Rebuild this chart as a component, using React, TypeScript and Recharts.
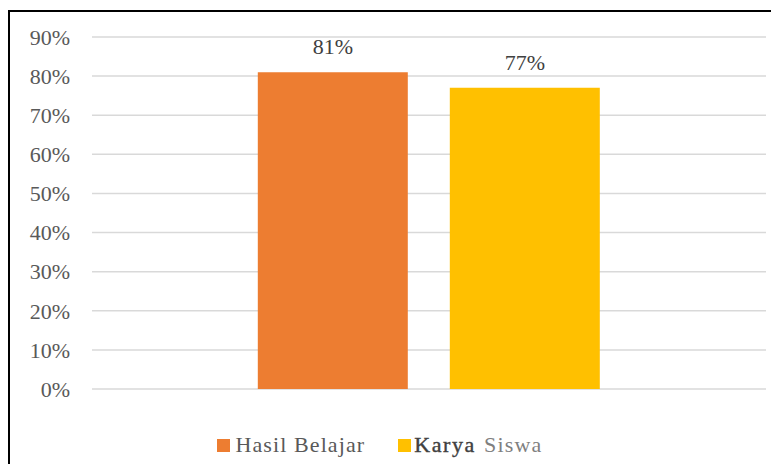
import { Bar, BarChart, CartesianGrid, LabelList, Legend, XAxis, YAxis } from 'recharts';

const categories = [''];
const hasilBelajar = [81];
const karyaSiswa = [77];
const yTicks = [0, 10, 20, 30, 40, 50, 60, 70, 80, 90];

const data = categories.map((name, i) => ({
  name,
  hasil: hasilBelajar[i],
  karya: karyaSiswa[i],
}));

const FONT = 'Liberation Serif, DejaVu Serif, serif';

function LegendContent() {
  return (
    <div
      style={{
        display: 'flex',
        justifyContent: 'center',
        alignItems: 'center',
        fontFamily: FONT,
        fontSize: 22,
        paddingRight: 16,
        paddingTop: 18,
      }}
    >
      <span style={{ display: 'flex', alignItems: 'center', marginRight: 33 }}>
        <span style={{ width: 13, height: 13, background: '#ED7D31', marginRight: 5 }} />
        <span style={{ color: '#595959', letterSpacing: 1.1 }}>Hasil Belajar</span>
      </span>
      <span style={{ display: 'flex', alignItems: 'center' }}>
        <span style={{ width: 13, height: 13, background: '#FFC000', marginRight: 3 }} />
        <span style={{ color: '#404040', letterSpacing: 1.6, WebkitTextStroke: '0.4px #404040' }}>Karya</span>
        <span style={{ color: '#7f7f7f', marginLeft: 8, letterSpacing: 1.2 }}>Siswa</span>
      </span>
    </div>
  );
}

export default function App() {
  return (
    <div style={{ paddingTop: 2, width: 771, overflow: 'hidden' }}>
      <div
        style={{
          borderTop: '2px solid #000',
          borderLeft: '2px solid #000',
          width: 769,
          height: 452,
          background: '#fff',
        }}
      >
        <BarChart
          width={769}
          height={452}
          data={data}
          margin={{ top: 25, right: 13, bottom: 0, left: 0 }}
          barCategoryGap="24.6%"
          barGap={42}
        >
          <CartesianGrid horizontal vertical={false} stroke="#d9d9d9" strokeWidth={1.5} />
          <XAxis dataKey="name" tick={false} axisLine={false} tickLine={false} height={25} />
          <YAxis
            width={82}
            domain={[0, 90]}
            ticks={yTicks}
            interval={0}
            tickFormatter={(v) => `${v}%`}
            axisLine={false}
            tickLine={false}
            tickSize={0}
            tickMargin={22}
            tick={{ fill: '#595959', fontSize: 22, fontFamily: FONT }}
          />
          <Legend verticalAlign="bottom" height={50} content={<LegendContent />} />
          <Bar dataKey="hasil" name="Hasil Belajar" fill="#ED7D31" isAnimationActive={false}>
            <LabelList
              dataKey="hasil"
              position="top"
              offset={18}
              formatter={(v) => `${v}%`}
              style={{ fill: '#404040', fontSize: 22, fontFamily: FONT }}
            />
          </Bar>
          <Bar dataKey="karya" name="Karya Siswa" fill="#FFC000" isAnimationActive={false}>
            <LabelList
              dataKey="karya"
              position="top"
              offset={18}
              formatter={(v) => `${v}%`}
              style={{ fill: '#404040', fontSize: 22, fontFamily: FONT }}
            />
          </Bar>
        </BarChart>
      </div>
    </div>
  );
}
